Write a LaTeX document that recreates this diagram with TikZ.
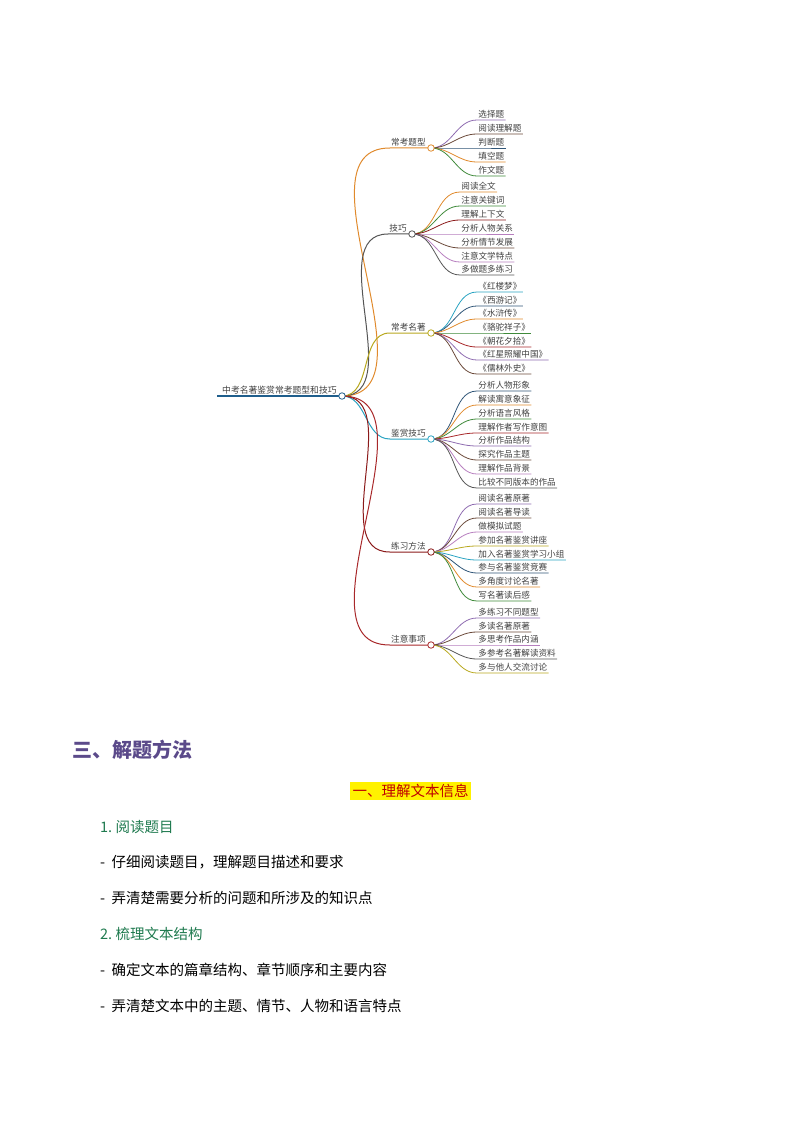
\documentclass[tikz,border=0pt]{standalone}
\usepackage{fontspec}
\setmainfont{Noto Sans CJK SC}
\newfontfamily\cjk{Noto Sans CJK SC}
\definecolor{cOr}{HTML}{E08A2C}
\definecolor{cGy}{HTML}{555555}
\definecolor{cOl}{HTML}{B8A81E}
\definecolor{cTe}{HTML}{2AA3C2}
\definecolor{cDr}{HTML}{8B1A1A}
\definecolor{cRd}{HTML}{A8282A}
\definecolor{cPu}{HTML}{8E6BB0}
\definecolor{cBr}{HTML}{6B4A3A}
\definecolor{cNv}{HTML}{2F5577}
\definecolor{cGr}{HTML}{3F8A3A}
\definecolor{cLp}{HTML}{B77FBF}
\definecolor{cRoot}{HTML}{1F5E8C}
\definecolor{cHead}{HTML}{5B4A8A}
\definecolor{cSub}{HTML}{1F7A4F}
\newcommand\mleaf[6]{\node[leaf,anchor=south west] (#1) at (#3,#4) {#6};
  \draw[#5,line width=0.8pt] (#2) to[out=0,in=180] (#1.south west) -- (#1.south east);}
\newcommand\mbranch[6]{\coordinate (#1c) at (#3,#4);
  \node[leaf,anchor=south east] (#1) at (#3-4,#4) {#6};
  \draw[#5,line width=1pt] (#2) to[out=0,in=180] (#1.south west) -- (#1c);}
\begin{document}
\begin{tikzpicture}[x=1pt,y=-1pt,
  leaf/.style={font=\fontsize{8.6}{9}\selectfont,text=black!75,inner sep=1.2pt},
  knob/.style={circle,draw,fill=white,inner sep=0pt,minimum size=6.5pt,line width=0.8pt},
  body/.style={font=\fontsize{14.5}{16}\selectfont,anchor=west,inner sep=0pt}]
\useasboundingbox (0,0) rectangle (794,1123);
\coordinate (rc) at (342,396);
\node[font=\fontsize{8.8}{9}\selectfont,text=black!75,inner sep=1.2pt,anchor=south east] (root) at (338,396) {中考名著鉴赏常考题型和技巧};
\draw[cRoot,line width=2pt] (217,396) -- (rc);
% branches
\mbranch{b1}{rc}{431}{148}{cOr}{常考题型}
\mbranch{b2}{rc}{412}{234}{cGy}{技巧}
\mbranch{b3}{rc}{431}{333}{cOl}{常考名著}
\mbranch{b4}{rc}{431}{439}{cTe}{鉴赏技巧}
\mbranch{b5}{rc}{431}{552}{cDr}{练习方法}
\mbranch{b6}{rc}{431}{645}{cRd}{注意事项}
% leaves 1
\mleaf{a1}{b1c}{477}{120}{cPu}{选择题}
\mleaf{a2}{b1c}{477}{134}{cBr}{阅读理解题}
\mleaf{a3}{b1c}{477}{148}{cNv}{判断题}
\mleaf{a4}{b1c}{477}{162}{cOr}{填空题}
\mleaf{a5}{b1c}{477}{176}{cGr}{作文题}
% leaves 2
\mleaf{c1}{b2c}{460}{192}{cOr}{阅读全文}
\mleaf{c2}{b2c}{460}{206}{cGr}{注意关键词}
\mleaf{c3}{b2c}{460}{220}{cDr}{理解上下文}
\mleaf{c4}{b2c}{460}{234}{cLp}{分析人物关系}
\mleaf{c5}{b2c}{460}{248}{cBr}{分析情节发展}
\mleaf{c6}{b2c}{460}{262}{cLp}{注意文学特点}
\mleaf{c7}{b2c}{460}{275}{cGy}{多做题多练习}
% leaves 3
\mleaf{d1}{b3c}{477}{292}{cTe}{《红楼梦》}
\mleaf{d2}{b3c}{477}{306}{cNv}{《西游记》}
\mleaf{d3}{b3c}{477}{319}{cOr}{《水浒传》}
\mleaf{d4}{b3c}{477}{333}{cGr}{《骆驼祥子》}
\mleaf{d5}{b3c}{477}{347}{cRd}{《朝花夕拾》}
\mleaf{d6}{b3c}{477}{360}{cPu}{《红星照耀中国》}
\mleaf{d7}{b3c}{477}{374}{cBr}{《儒林外史》}
% leaves 4
\mleaf{e1}{b4c}{477}{391}{cNv}{分析人物形象}
\mleaf{e2}{b4c}{477}{405}{cOr}{解读寓意象征}
\mleaf{e3}{b4c}{477}{419}{cGr}{分析语言风格}
\mleaf{e4}{b4c}{477}{433}{cRd}{理解作者写作意图}
\mleaf{e5}{b4c}{477}{446}{cPu}{分析作品结构}
\mleaf{e6}{b4c}{477}{460}{cBr}{探究作品主题}
\mleaf{e7}{b4c}{477}{474}{cLp}{理解作品背景}
\mleaf{e8}{b4c}{477}{488}{cGy}{比较不同版本的作品}
% leaves 5
\mleaf{f1}{b5c}{477}{504}{cPu}{阅读名著原著}
\mleaf{f2}{b5c}{477}{518}{cBr}{阅读名著导读}
\mleaf{f3}{b5c}{477}{532}{cLp}{做模拟试题}
\mleaf{f4}{b5c}{477}{546}{cOl}{参加名著鉴赏讲座}
\mleaf{f5}{b5c}{477}{560}{cTe}{加入名著鉴赏学习小组}
\mleaf{f6}{b5c}{477}{573}{cNv}{参与名著鉴赏竞赛}
\mleaf{f7}{b5c}{477}{587}{cOr}{多角度讨论名著}
\mleaf{f8}{b5c}{477}{601}{cGr}{写名著读后感}
% leaves 6
\mleaf{g1}{b6c}{477}{618}{cPu}{多练习不同题型}
\mleaf{g2}{b6c}{477}{632}{cBr}{多读名著原著}
\mleaf{g3}{b6c}{477}{645}{cLp}{多思考作品内涵}
\mleaf{g4}{b6c}{477}{659}{cGy}{多参考名著解读资料}
\mleaf{g5}{b6c}{477}{673}{cOl}{多与他人交流讨论}
% knobs
\node[knob,draw=cRoot] at (rc) {};
\node[knob,draw=cOr] at (b1c) {};
\node[knob,draw=cGy] at (b2c) {};
\node[knob,draw=cOl] at (b3c) {};
\node[knob,draw=cTe] at (b4c) {};
\node[knob,draw=cDr] at (b5c) {};
\node[knob,draw=cRd] at (b6c) {};
% text section
\node[body,font=\fontsize{20}{22}\selectfont\bfseries,text=cHead] (h) at (72,750) {三、解题方法};
\node[fill=yellow,text=red!75!black,font=\fontsize{14.5}{16}\selectfont,inner sep=2.5pt] (y) at (410.5,791) {一、理解文本信息};
\node[body,text=cSub] (s1) at (100,827) {1.\ 阅读题目};
\node[body] (p1) at (100,862) {-\ \ 仔细阅读题目，理解题目描述和要求};
\node[body] (p2) at (100,898) {-\ \ 弄清楚需要分析的问题和所涉及的知识点};
\node[body,text=cSub] (s2) at (100,934) {2.\ 梳理文本结构};
\node[body] (p3) at (100,970) {-\ \ 确定文本的篇章结构、章节顺序和主要内容};
\node[body] (p4) at (100,1006) {-\ \ 弄清楚文本中的主题、情节、人物和语言特点};
\end{tikzpicture}
\end{document}
